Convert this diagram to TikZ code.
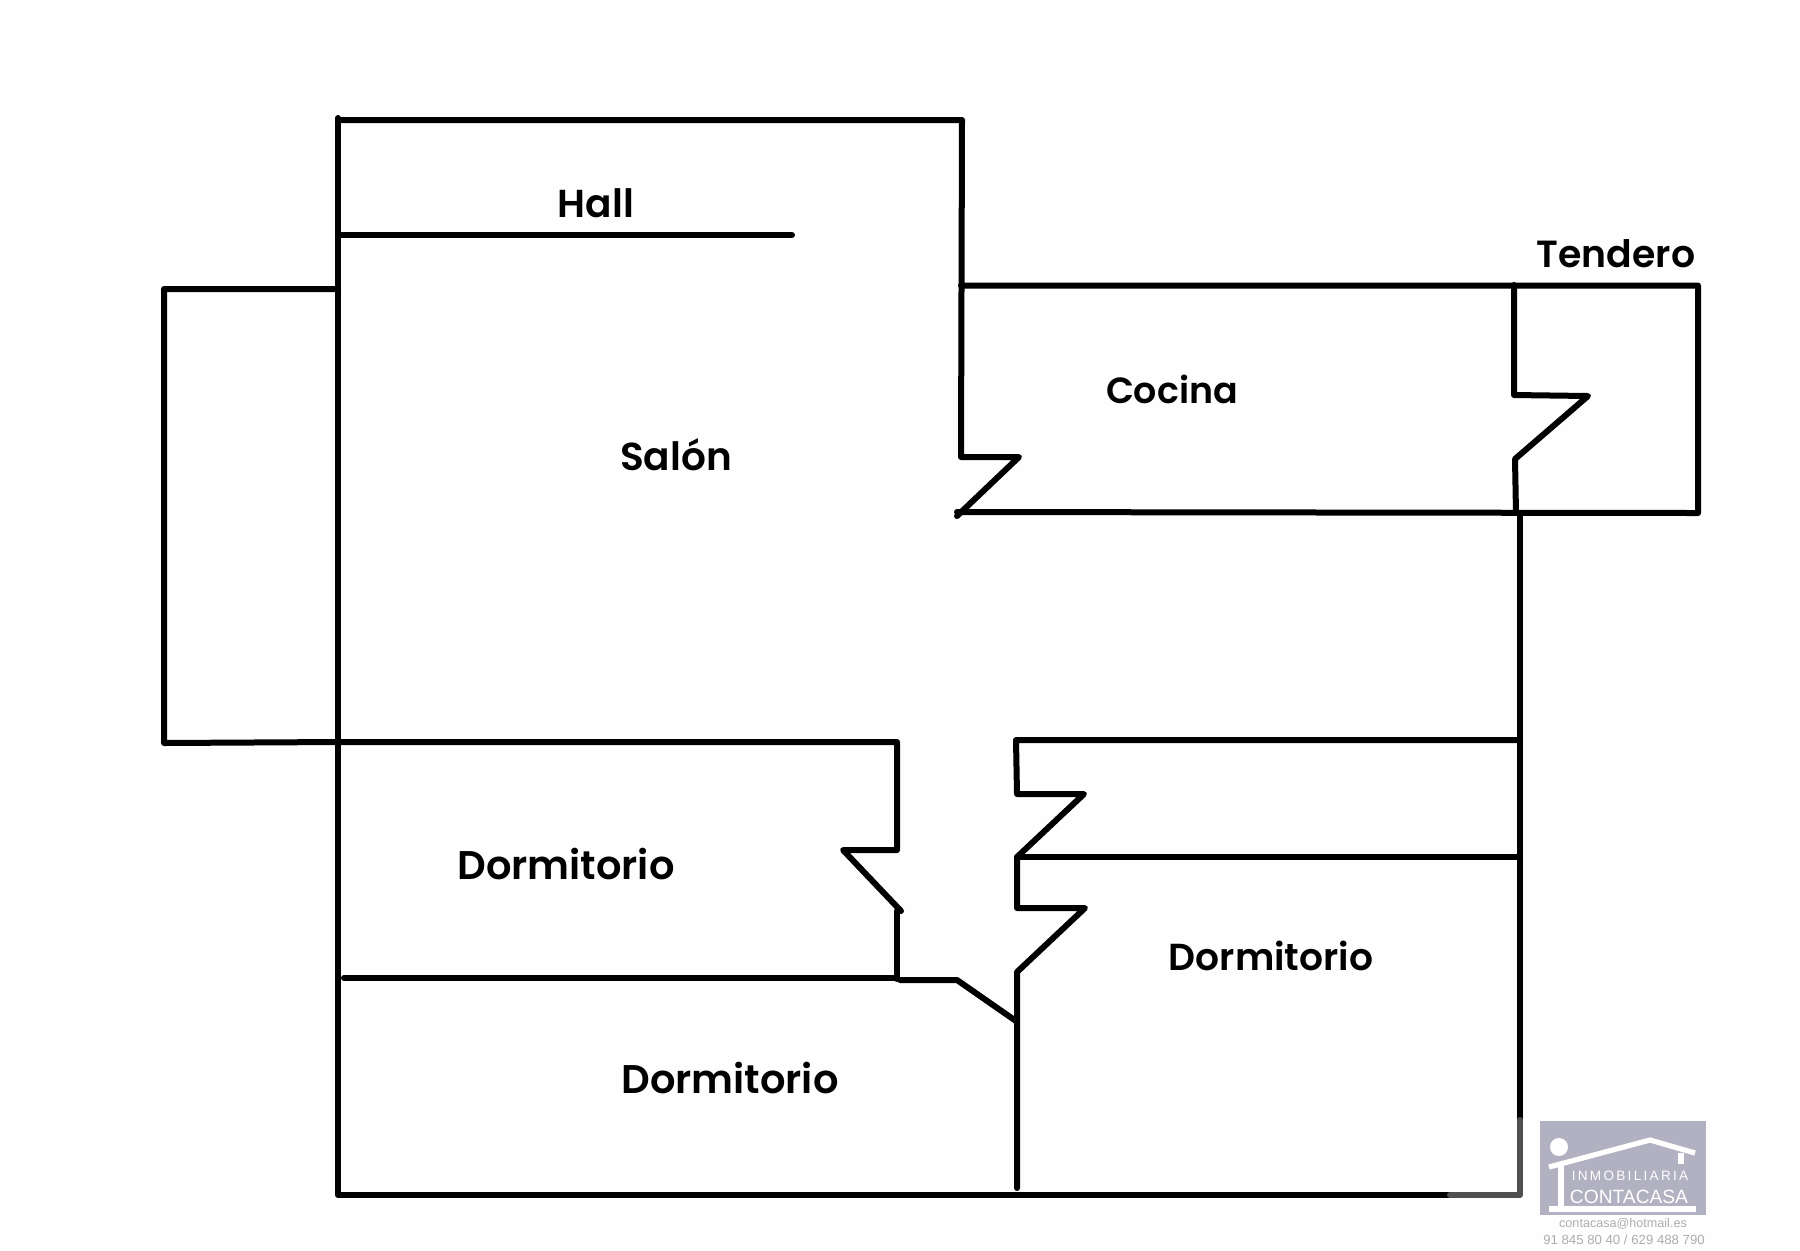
\documentclass[tikz,border=0pt]{standalone}
\usepackage{fontspec}
\setmainfont{Poppins}[UprightFont={* SemiBold},BoldFont={* SemiBold}]
\newfontfamily\logofont{Liberation Sans}
\definecolor{logobg}{HTML}{B1B1C1}
\definecolor{logotext}{HTML}{ADADB0}
\definecolor{wallgrey}{HTML}{505050}
\tikzset{
  wall/.style={line width=3pt,black,line cap=round,line join=round},
  fadewall/.style={line width=3pt,wallgrey,line cap=round,line join=round},
  room/.style={text=black,inner sep=0pt},
  logoline/.style={white,line join=miter},
  logoname/.style={text=white,inner sep=0pt},
  logoinfo/.style={text=logotext,inner sep=0pt}
}
\begin{document}
\begin{tikzpicture}[x=0.5pt,y=-0.5pt]
\useasboundingbox (0,0) rectangle (1800,1250);
\fill[white!99.5!black] (0,0) rectangle (1800,1250);
% main walls
\draw[wall] (338,120) -- (962,120) -- (961,457) -- (1019,457) -- (957,516);
\draw[wall] (338,118) -- (338,1195) -- (1450,1195);
\draw[wall] (338,235) -- (792,235);
\draw[wall] (338,289) -- (164,289) -- (164,743) -- (338,742) -- (897,742) -- (897,850) -- (843,850) -- (901,911);
\draw[wall] (897,911) -- (897,979);
\draw[wall] (344,978) -- (897,978);
\draw[wall] (900,980) -- (957,980) -- (1016,1021);
\draw[wall] (1520,740) -- (1016,740) -- (1017,794) -- (1084,794) -- (1017,857) -- (1017,908) -- (1085,908) -- (1017,972) -- (1017,1188);
\draw[wall] (1017,857) -- (1520,857);
\draw[wall] (961,285.5) -- (1698,285.5) -- (1698,513) -- (957,512);
\draw[wall] (1514,285) -- (1514,395) -- (1588,396) -- (1515,459) -- (1516,513);
\draw[wall] (1520,513) -- (1520,1120);
\draw[fadewall] (1450,1195) -- (1520,1195) -- (1520,1120);
% labels
\node[room,font=\fontsize{19.5}{22}\selectfont] (hall) at (596,203) {Hall};
\node[room,font=\fontsize{18.9}{22}\selectfont] (tendero) at (1616,254) {Tendero};
\node[room,font=\fontsize{18.2}{22}\selectfont] (cocina) at (1172,389) {Cocina};
\node[room,font=\fontsize{19.5}{22}\selectfont] (salon) at (676,455) {Salón};
\node[room,font=\fontsize{20}{22}\selectfont] (dorm1) at (566,864) {Dormitorio};
\node[room,font=\fontsize{18.8}{22}\selectfont] (dorm2) at (1271,956) {Dormitorio};
\node[room,font=\fontsize{20}{22}\selectfont] (dorm3) at (730,1078) {Dormitorio};
% logo
\fill[logobg] (1540,1121) rectangle (1706,1215);
\fill[white] (1559,1147) circle (9);
\draw[logoline,line width=2.6pt] (1549,1167) -- (1650,1140) -- (1695,1153);
\draw[logoline,line width=3pt] (1561,1165) -- (1561,1210);
\draw[logoline,line width=3pt] (1549,1209) -- (1696,1209);
\draw[logoline,line width=2.6pt] (1681,1153) -- (1681,1164);
\node[logoname,font=\logofont\fontsize{6.8}{8}\selectfont] (inmo) at (1630,1176) {I\,N\,M\,O\,B\,I\,L\,I\,A\,R\,I\,A};
\node[logoname,font=\logofont\fontsize{9.6}{11}\selectfont] (conta) at (1629,1197) {CONTACASA};
\node[logoinfo,font=\logofont\fontsize{6.3}{7}\selectfont] (mail) at (1623,1224) {contacasa@hotmail.es};
\node[logoinfo,font=\logofont\fontsize{6.6}{8}\selectfont] (phone) at (1624,1240) {91 845 80 40 / 629 488 790};
\end{tikzpicture}
\end{document}
